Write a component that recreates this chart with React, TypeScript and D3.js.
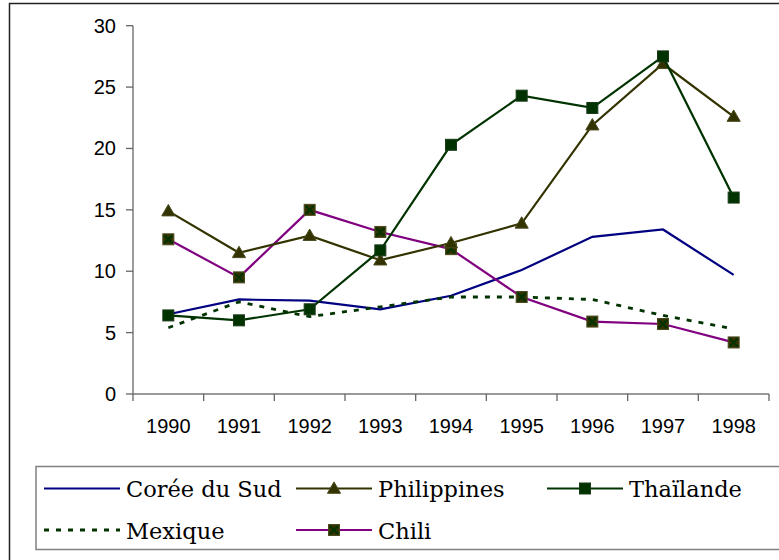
import * as d3 from "d3";

const years = ["1990", "1991", "1992", "1993", "1994", "1995", "1996", "1997", "1998"];
const yTicks = [0, 5, 10, 15, 20, 25, 30];

const coree = [6.5, 7.7, 7.6, 6.9, 8.0, 10.1, 12.8, 13.4, 9.7];
const philippines = [14.9, 11.5, 12.9, 10.9, 12.3, 13.9, 21.9, 26.9, 22.6];
const thailande = [6.4, 6.0, 6.9, 11.7, 20.3, 24.3, 23.3, 27.5, 16.0];
const mexique = [5.4, 7.5, 6.3, 7.1, 7.9, 7.9, 7.7, 6.4, 5.3];
const chili = [12.6, 9.5, 15.0, 13.2, 11.8, 7.9, 5.9, 5.7, 4.2];

type Marker = "none" | "triangle" | "square" | "xsquare";

interface Series {
  name: string;
  values: number[];
  color: string;
  marker: Marker;
  dashed?: boolean;
}

const series: Series[] = [
  { name: "Corée du Sud", values: coree, color: "#000080", marker: "none" },
  { name: "Philippines", values: philippines, color: "#333300", marker: "triangle" },
  { name: "Thaïlande", values: thailande, color: "#003300", marker: "square" },
  { name: "Mexique", values: mexique, color: "#003300", marker: "none", dashed: true },
  { name: "Chili", values: chili, color: "#800080", marker: "xsquare" },
];

// draw order in the plot (Chili under Philippines / Thaïlande)
const drawOrder = ["Corée du Sud", "Mexique", "Chili", "Philippines", "Thaïlande"];

function MarkerShape({ type, x, y }: { type: Marker; x: number; y: number }) {
  if (type === "triangle") {
    const tri = d3.symbol().type(d3.symbolTriangle).size(75)();
    return (
      <path
        d={tri || ""}
        transform={`translate(${x},${y + 1})`}
        fill="#333300"
        stroke="#4a4a20"
        strokeWidth={1}
      />
    );
  }
  if (type === "square") {
    return <rect x={x - 5.5} y={y - 5.5} width={11} height={11} fill="#003300" stroke="#1a3a1a" strokeWidth={1} />;
  }
  if (type === "xsquare") {
    return (
      <g>
        <rect x={x - 5.5} y={y - 5.5} width={11} height={11} fill="#333300" stroke="#4a4a20" strokeWidth={1} />
        <path
          d={`M${x - 4},${y - 4}L${x + 4},${y + 4}M${x + 4},${y - 4}L${x - 4},${y + 4}`}
          stroke="#003300"
          strokeWidth={2}
        />
      </g>
    );
  }
  return null;
}

export default function App() {
  const width = 779;
  const height = 560;
  const left = 133;
  const right = 769;
  const top = 25.7;
  const bottom = 394;

  const x = d3.scaleBand<string>().domain(years).range([left, right]).padding(0);
  const y = d3.scaleLinear().domain([0, 30]).range([bottom, top]);
  const cx = (yr: string) => (x(yr) ?? 0) + x.bandwidth() / 2;

  const line = d3
    .line<number>()
    .x((_, i) => cx(years[i]))
    .y((d) => y(d));

  const sansFont = "'Liberation Sans', Arial, sans-serif";
  const serifFont = "'DejaVu Serif', serif";

  const legendCols = [44, 296, 547];
  const legendRows = [488.5, 530];

  const ordered = drawOrder.map((n) => series.find((s) => s.name === n)!);

  return (
    <svg
      width={width}
      height={height}
      style={{ position: "absolute", left: 0, top: 0, background: "#fff" }}
    >
      {/* outer frame */}
      <rect x={9.5} y={3.5} width={800} height={600} fill="none" stroke="#222" strokeWidth={1.5} />

      {/* y axis */}
      <line x1={left} x2={left} y1={top} y2={bottom} stroke="#666" strokeWidth={1.3} />
      {yTicks.map((t) => (
        <g key={t}>
          <line x1={left - 7} x2={left} y1={y(t)} y2={y(t)} stroke="#666" strokeWidth={1.3} />
          <text
            x={116}
            y={y(t)}
            dy="0.35em"
            textAnchor="end"
            fontFamily={sansFont}
            fontSize={20}
            fill="#000"
          >
            {t}
          </text>
        </g>
      ))}

      {/* x axis */}
      <line x1={left} x2={right} y1={bottom} y2={bottom} stroke="#777" strokeWidth={1.3} />
      {[...years.map((yr) => x(yr) ?? 0), right].map((tx, i) => (
        <line key={i} x1={tx} x2={tx} y1={bottom} y2={bottom + 7} stroke="#666" strokeWidth={1.3} />
      ))}
      {years.map((yr) => (
        <text
          key={yr}
          x={cx(yr)}
          y={433}
          textAnchor="middle"
          fontFamily={sansFont}
          fontSize={20}
          fill="#000"
        >
          {yr}
        </text>
      ))}

      {/* series */}
      {ordered.map((s) => (
        <g key={s.name}>
          <path
            d={line(s.values) || ""}
            fill="none"
            stroke={s.color}
            strokeWidth={s.dashed ? 2.8 : 2.2}
            strokeDasharray={s.dashed ? "5,7" : undefined}
          />
          {s.values.map((v, i) => (
            <MarkerShape key={i} type={s.marker} x={cx(years[i])} y={y(v)} />
          ))}
        </g>
      ))}

      {/* legend */}
      <rect x={36} y={466.5} width={800} height={83} fill="#fff" stroke="#808080" strokeWidth={1.5} />
      {series.map((s, i) => {
        const lx = legendCols[i % 3];
        const ly = legendRows[Math.floor(i / 3)];
        return (
          <g key={s.name}>
            <line
              x1={lx}
              x2={lx + 76}
              y1={ly}
              y2={ly}
              stroke={s.color}
              strokeWidth={s.dashed ? 2.8 : 2.2}
              strokeDasharray={s.dashed ? "5,7" : undefined}
            />
            <MarkerShape type={s.marker} x={lx + 38} y={ly} />
            <text x={lx + 82} y={ly + 8.5} fontFamily={serifFont} fontSize={22.5} fill="#000">
              {s.name}
            </text>
          </g>
        );
      })}
    </svg>
  );
}
